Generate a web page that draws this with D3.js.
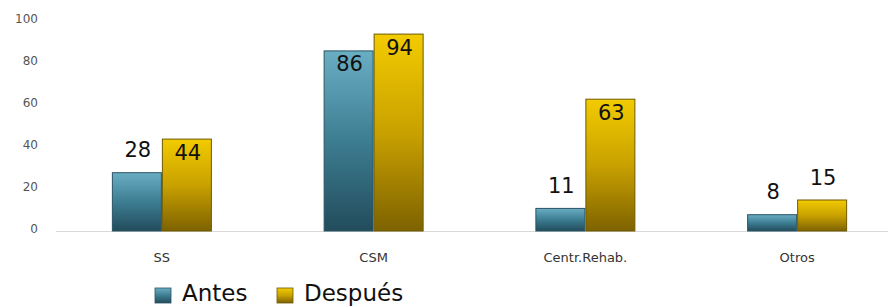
<!DOCTYPE html>
<html>
<head>
<meta charset="utf-8">
<script src="https://cdn.jsdelivr.net/npm/d3@7"></script>
<style>
  body { margin: 0; background: #fff; }
  svg { display: block; font-family: "DejaVu Sans", sans-serif; }
</style>
</head>
<body>
<div id="chart"></div>
<script>
// data
var categories = ["SS", "CSM", "Centr.Rehab.", "Otros"];
var series = ["Antes", "Después"];
var antes = [28, 86, 11, 8];
var despues = [44, 94, 63, 15];
var yTicks = [0, 20, 40, 60, 80, 100];

var width = 893, height = 307;

var svg = d3.select("#chart")
  .append("svg")
    .attr("width", width)
    .attr("height", height);

// gradients for the bars
var defs = svg.append("defs");
function grad(id, stops) {
  var g = defs.append("linearGradient").attr("id", id)
    .attr("x1", 0).attr("y1", 0).attr("x2", 0).attr("y2", 1);
  stops.forEach(function(s) {
    g.append("stop").attr("offset", s[0]).attr("stop-color", s[1]);
  });
}
grad("gAntes", [[0, "#6aaec4"], [0.5, "#3d7d92"], [1, "#224c5b"]]);
grad("gDespues", [[0, "#f2cb00"], [0.5, "#c9a100"], [1, "#7d6200"]]);
var fills = ["url(#gAntes)", "url(#gDespues)"];
var strokes = ["#2a5463", "#6e5a00"];

// scales
var x = d3.scaleBand()
  .domain(categories)
  .range([56, 903]);

var y = d3.scaleLinear()
  .domain([0, 100])
  .range([231, 21]);

var barW = 50;

// Y axis labels
svg.append("g")
  .selectAll("text")
  .data(yTicks)
  .enter()
  .append("text")
    .attr("x", 38)
    .attr("y", function(d) { return y(d); })
    .attr("dy", "0.2em")
    .attr("text-anchor", "end")
    .attr("font-size", 12)
    .attr("fill", "#555")
    .text(function(d) { return d; });

// baseline
svg.append("line")
  .attr("x1", 56).attr("x2", 888)
  .attr("y1", y(0) + 0.5).attr("y2", y(0) + 0.5)
  .attr("stroke", "#d9d9d9");

// category labels
svg.append("g")
  .selectAll("text")
  .data(categories)
  .enter()
  .append("text")
    .attr("x", function(d) { return x(d) + x.bandwidth() / 2; })
    .attr("y", 262)
    .attr("text-anchor", "middle")
    .attr("font-size", 13)
    .attr("fill", "#333")
    .text(function(d) { return d; });

//Bars
var rows = [];
categories.forEach(function(c, i) {
  rows.push({cat: c, s: 0, v: antes[i]});
  rows.push({cat: c, s: 1, v: despues[i]});
});

function barX(d) {
  return x(d.cat) + x.bandwidth() / 2 + (d.s === 0 ? -barW : 0);
}

svg.selectAll("myRect")
  .data(rows)
  .enter()
  .append("rect")
    .attr("x", function(d) { return barX(d) + 0.5; })
    .attr("y", function(d) { return y(d.v) + 0.5; })
    .attr("width", barW - 1)
    .attr("height", function(d) { return y(0) - y(d.v) - 0.5; })
    .attr("fill", function(d) { return fills[d.s]; })
    .attr("stroke", function(d) { return strokes[d.s]; })
    .attr("stroke-width", 1);

// value labels: inside the bar when tall, above when short
svg.selectAll("myLabel")
  .data(rows)
  .enter()
  .append("text")
    .attr("x", function(d) { return barX(d) + barW / 2 + 1; })
    .attr("y", function(d) { return d.v > 40 ? y(d.v) + 21 : y(d.v) - 15; })
    .attr("text-anchor", "middle")
    .attr("font-size", 21)
    .attr("fill", "#111")
    .text(function(d) { return d.v; });

// legend
var legend = svg.append("g");
var legX = [155, 277];
series.forEach(function(s, i) {
  legend.append("rect")
    .attr("x", legX[i]).attr("y", 288)
    .attr("width", 16).attr("height", 15)
    .attr("fill", fills[i])
    .attr("stroke", strokes[i])
    .attr("stroke-width", 0.8);
  legend.append("text")
    .attr("x", legX[i] + 27).attr("y", 301)
    .attr("font-size", 23)
    .attr("fill", "#111")
    .text(s);
});
</script>
</body>
</html>
